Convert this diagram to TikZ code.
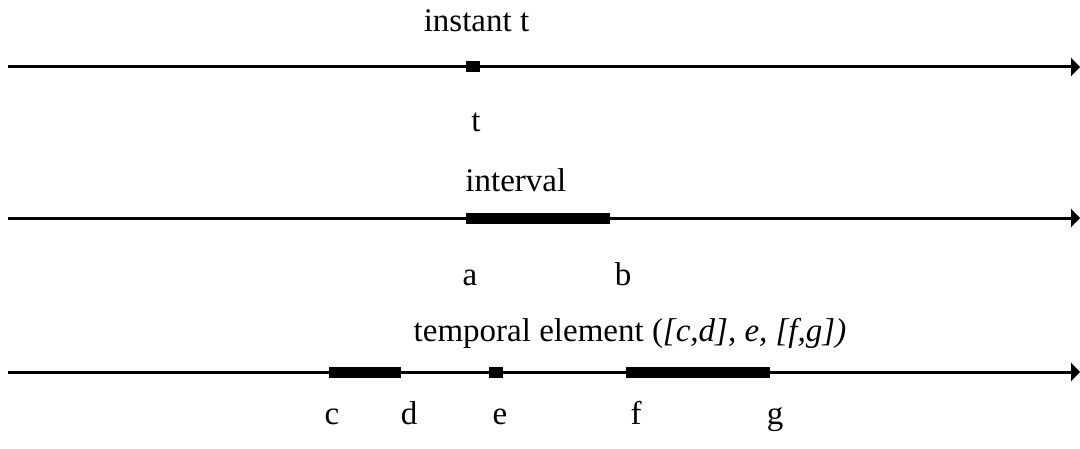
\documentclass[tikz,border=0pt]{standalone}
\usepackage{fontspec}
\setmainfont{Liberation Serif}
\usetikzlibrary{arrows.meta}
\begin{document}
\begin{tikzpicture}[x=0.5pt, y=-0.5pt,
		axis/.style={line width=1.5pt, -{Triangle[length=4.5pt, width=9pt]}},
		span/.style={line width=5.5pt},
		lab/.style={anchor=base, inner sep=0pt, font=\fontsize{16.5}{20}\selectfont}]
	\useasboundingbox (0,0) rectangle (1080,449);
	% instant
	\coordinate (s1) at (8,67); \coordinate (e1) at (1080,67);
	\coordinate (t1) at (466,67); \coordinate (t2) at (480,67);
	\draw[axis] (s1) -- (e1);
	\draw[span] (t1) -- (t2);
	\node[lab] (instant) at (476.5,32) {instant t};
	\node[lab] (tlab) at (476,131) {t};
	% interval
	\coordinate (s2) at (8,218); \coordinate (e2) at (1080,218);
	\coordinate (a) at (466,218); \coordinate (b) at (610,218);
	\draw[axis] (s2) -- (e2);
	\draw[span] (a) -- (b);
	\node[lab, anchor=base west] (interval) at (465,191) {interval};
	\node[lab] (alab) at (470,285) {a};
	\node[lab] (blab) at (623,285) {b};
	% temporal element
	\coordinate (s3) at (8,372); \coordinate (e3) at (1080,372);
	\coordinate (c) at (329,372); \coordinate (d) at (401,372);
	\coordinate (e1a) at (489,372); \coordinate (e1b) at (503,372);
	\coordinate (f) at (626,372); \coordinate (g) at (770,372);
	\draw[axis] (s3) -- (e3);
	\draw[span] (c) -- (d) (e1a) -- (e1b) (f) -- (g);
	\node[lab] (element) at (630,341) {temporal element (\textit{[c,d], e, [f,g])}};
	\node[lab] (clab) at (332,424) {c};
	\node[lab] (dlab) at (409,424) {d};
	\node[lab] (elab) at (500,424) {e};
	\node[lab] (flab) at (636,424) {f};
	\node[lab] (glab) at (775,424) {g};
\end{tikzpicture}
\end{document}
